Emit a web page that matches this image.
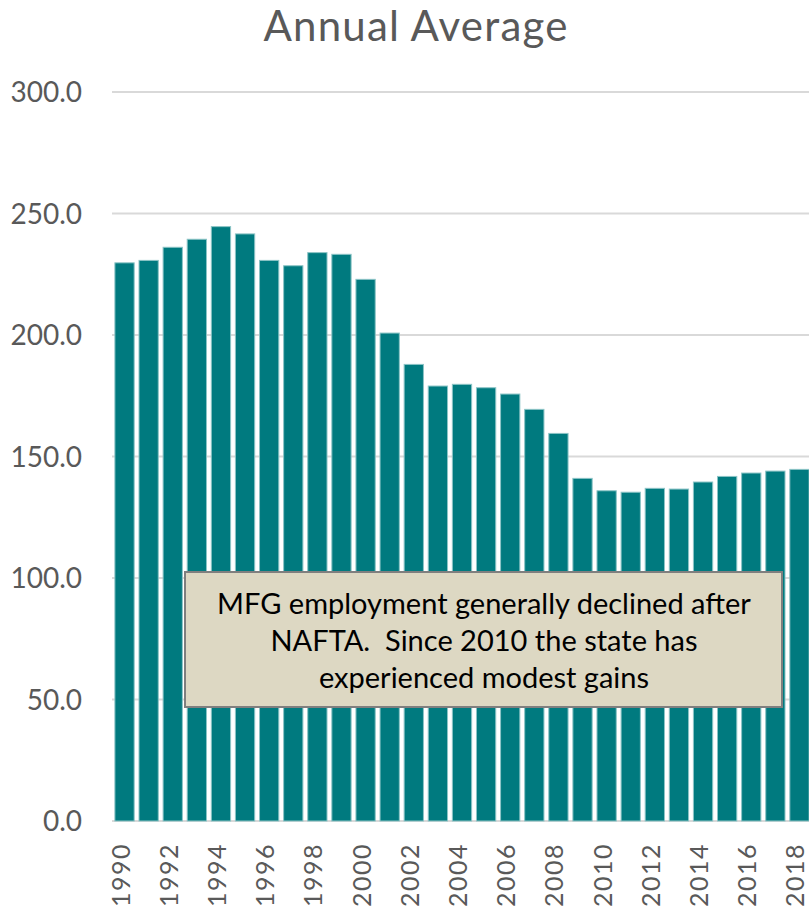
<!DOCTYPE html>
<html>
<head>
<meta charset="utf-8">
<script src="https://cdn.jsdelivr.net/npm/d3@7"></script>
<style>
  html, body { margin: 0; padding: 0; background: #fff; overflow: hidden; }
  svg { display: block; font-family: Lato, "Open Sans", sans-serif; }
</style>
</head>
<body>
<div id="chart"></div>
<script>
const YEARS = d3.range(1990, 2019);
const VALUES = [
  229.7, 230.7, 236.1, 239.4, 244.6, 241.6, 230.7, 228.5, 233.9, 233.2,
  222.9, 200.8, 187.9, 179.0, 179.7, 178.3, 175.7, 169.4, 159.5, 141.0,
  135.9, 135.3, 136.9, 136.6, 139.5, 141.8, 143.2, 144.0, 144.7,
];
const Y_TICKS = [0, 50, 100, 150, 200, 250, 300];
const TITLE = "Annual Average";
const NOTE_LINES = [
  "MFG employment generally declined after",
  "NAFTA.  Since 2010 the state has",
  "experienced modest gains",
];

const width = 809;
const height = 908;
const margin = { left: 112, right: -3, top: 92, bottom: 87 };

const data = YEARS.map((year, i) => ({ year, value: VALUES[i] }));

const svg = d3
  .select("#chart")
  .append("svg")
  .attr("width", width)
  .attr("height", height);

const x = d3
  .scaleBand()
  .domain(YEARS)
  .range([margin.left, width - margin.right])
  .paddingInner(0.2)
  .paddingOuter(0.12);

const y = d3
  .scaleLinear()
  .domain([0, 300])
  .range([height - margin.bottom, margin.top]);

// gridlines
svg
  .append("g")
  .selectAll("line")
  .data(Y_TICKS)
  .join("line")
  .attr("x1", margin.left)
  .attr("x2", width)
  .attr("y1", (d) => y(d))
  .attr("y2", (d) => y(d))
  .attr("stroke", "#d9d9d9")
  .attr("stroke-width", 2);

// y tick labels
svg
  .append("g")
  .selectAll("text")
  .data(Y_TICKS)
  .join("text")
  .attr("x", 82)
  .attr("y", (d) => y(d))
  .attr("dy", "0.36em")
  .attr("text-anchor", "end")
  .attr("fill", "#595959")
  .style("font-size", "28px")
  .text((d) => d.toFixed(1));

// bars
svg
  .append("g")
  .selectAll("rect")
  .data(data)
  .join("rect")
  .attr("x", (d) => x(d.year))
  .attr("y", (d) => y(d.value))
  .attr("width", x.bandwidth())
  .attr("height", (d) => y(0) - y(d.value))
  .attr("fill", "#007a7f")
  .attr("stroke", "#8cc4c6")
  .attr("stroke-width", 1);

// x labels (every other year)
svg
  .append("g")
  .selectAll("text")
  .data(YEARS.filter((d) => d % 2 === 0))
  .join("text")
  .attr("transform", (d) => `translate(${x(d) + x.bandwidth() / 2 - 4},843) rotate(-90)`)
  .attr("dy", "0.36em")
  .attr("text-anchor", "end")
  .attr("fill", "#595959")
  .style("font-size", "25px")
  .style("letter-spacing", "1.5px")
  .text((d) => d);

// title
svg
  .append("text")
  .attr("x", 416)
  .attr("y", 41)
  .attr("text-anchor", "middle")
  .attr("fill", "#595959")
  .style("font-size", "42px")
  .style("letter-spacing", "1.2px")
  .text(TITLE);

// annotation box
const note = svg.append("g");
note
  .append("rect")
  .attr("x", 185)
  .attr("y", 572)
  .attr("width", 597)
  .attr("height", 135)
  .attr("fill", "#ddd8c3")
  .attr("stroke", "#7f7f7f")
  .attr("stroke-width", 2);

note
  .selectAll("text")
  .data(NOTE_LINES)
  .join("text")
  .attr("x", 484)
  .attr("y", (d, i) => 614 + i * 37)
  .attr("text-anchor", "middle")
  .attr("fill", "#000")
  .style("font-size", "29px")
  .style("white-space", "pre")
  .text((d) => d);
</script>
</body>
</html>
